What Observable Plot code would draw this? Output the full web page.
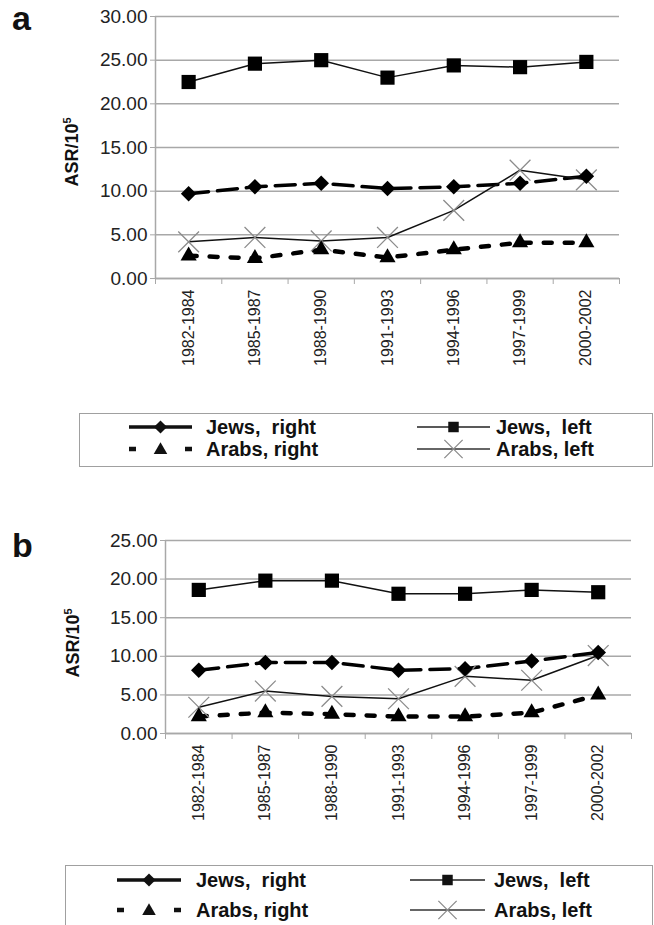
<!DOCTYPE html>
<html><head><meta charset="utf-8">
<script src="https://cdn.jsdelivr.net/npm/d3@7"></script>
<script src="https://cdn.jsdelivr.net/npm/@observablehq/plot@0.6"></script>
<style>
body{margin:0;background:#fff;font-family:"Liberation Sans",Arial,sans-serif;}
#root{position:relative;width:654px;height:925px;overflow:hidden;background:#fff;}
.abs{position:absolute;}
.letter{font-weight:bold;font-size:34px;line-height:34px;color:#111;}
.ylab{font-weight:bold;font-size:18px;color:#111;white-space:nowrap;transform:translate(-50%,-50%) rotate(-90deg);}
.ylab sup{font-size:11px;}
.legend{border:1.5px solid #a0a0a0;box-sizing:border-box;background:#fff;}
.ltext{position:absolute;font-weight:bold;font-size:20px;color:#111;white-space:pre;transform:translateY(-50%);line-height:22px;}
</style></head><body><div id="root"></div>
<script>
const periods = ["1982-1984","1985-1987","1988-1990","1991-1993","1994-1996","1997-1999","2000-2002"];
const seriesNames = ["Jews, right","Jews, left","Arabs, right","Arabs, left"];
const yTicksA = [0,5,10,15,20,25,30];
const yTicksB = [0,5,10,15,20,25];

// panel a
const aJewsRight  = [9.7,10.5,10.9,10.3,10.5,10.9,11.7];
const aJewsLeft   = [22.5,24.6,25.0,23.0,24.4,24.2,24.8];
const aArabsRight = [2.6,2.3,3.3,2.4,3.3,4.1,4.1];
const aArabsLeft  = [4.2,4.7,4.3,4.7,7.8,12.4,11.3];
// panel b
const bJewsRight  = [8.2,9.2,9.2,8.2,8.4,9.4,10.5];
const bJewsLeft   = [18.6,19.8,19.8,18.1,18.1,18.6,18.3];
const bArabsRight = [2.2,2.7,2.5,2.2,2.2,2.7,5.0];
const bArabsLeft  = [3.4,5.5,4.8,4.5,7.4,6.9,10.1];

const root = document.getElementById("root");
const GRID = "#a8a8a8";

function chart(o){
  const pts = v => v.map((y,i)=>({x:i+0.5, y, period: periods[i]}));
  return Plot.plot({
    width: 654, height: o.height,
    marginLeft: o.ml, marginRight: o.mr, marginTop: o.mt, marginBottom: o.mb,
    style: {fontFamily: "'Liberation Sans', Arial, sans-serif", background: "white", overflow: "visible"},
    x: {domain: [0, periods.length]},
    y: {domain: [0, o.yMax]},
    marks: [
      Plot.gridY(o.yTicks, {stroke: GRID, strokeOpacity: 1, strokeWidth: 1.5}),
      Plot.ruleX([0], {stroke: GRID, strokeWidth: 1.5}),
      Plot.ruleY([0], {stroke: GRID, strokeWidth: 1.5}),
      Plot.axisY({ticks: o.yTicks, tickFormat: d3.format(".2f"), tickSize: 5, tickPadding: 3,
                  stroke: GRID, fill: "#222", fontSize: 19, label: null}),
      Plot.axisX({ticks: d3.range(periods.length + 1), tickFormat: () => "", tickSize: 6,
                  stroke: GRID, label: null}),
      Plot.axisX({ticks: periods.map((p,i)=>i+0.5), tickFormat: v => periods[Math.round(v-0.5)],
                  tickSize: 0, tickPadding: 11, tickRotate: -90, fill: "#222", fontSize: 16, label: null}),
      Plot.line(pts(o.ar), {x: "x", y: "y", stroke: "black", strokeWidth: 4.5, strokeDasharray: "8,13"}),
      Plot.line(pts(o.jr), {x: "x", y: "y", stroke: "black", strokeWidth: 3.5, strokeDasharray: "20,9"}),
      Plot.line(pts(o.al), {x: "x", y: "y", stroke: "#111", strokeWidth: 1.5}),
      Plot.line(pts(o.jl), {x: "x", y: "y", stroke: "#111", strokeWidth: 1.5}),
      Plot.dot(pts(o.al), {x: "x", y: "y", symbol: "times", r: 9.5, stroke: "#8c8c8c", strokeWidth: 1.3}),
      Plot.dot(pts(o.ar), {x: "x", y: "y", symbol: "triangle", r: 6, fill: "black", stroke: "none"}),
      Plot.dot(pts(o.jr), {x: "x", y: "y", symbol: "diamond2", r: 7, fill: "black", stroke: "none"}),
      Plot.dot(pts(o.jl), {x: "x", y: "y", symbol: "square", r: 8, fill: "black", stroke: "none"})
    ]
  });
}

function place(el, left, top){
  el.style.position = "absolute"; el.style.left = left + "px"; el.style.top = top + "px";
  root.appendChild(el); return el;
}
function div(cls, html, left, top){
  const d = document.createElement("div"); d.className = cls; d.innerHTML = html;
  return place(d, left, top);
}

// legend swatches
function swatch(kind, w){
  const h = 24, cy = h/2, cx = w/2;
  const ns = "http://www.w3.org/2000/svg";
  const svg = document.createElementNS(ns, "svg");
  svg.setAttribute("width", w); svg.setAttribute("height", h);
  let line = "", marker = "";
  if (kind === 0){ // Jews, right
    line = `<line x1="0" x2="${w}" y1="${cy}" y2="${cy}" stroke="#111" stroke-width="3.5" stroke-dasharray="${(w/2-4).toFixed(1)},8,${w}"/>`;
    marker = `<path transform="translate(${cx},${cy})" d="${d3.symbol(d3.symbolDiamond2, 110)()}" fill="#111"/>`;
  } else if (kind === 1){ // Jews, left
    line = `<line x1="0" x2="${w}" y1="${cy}" y2="${cy}" stroke="#222" stroke-width="1.5"/>`;
    marker = `<path transform="translate(${cx},${cy})" d="${d3.symbol(d3.symbolSquare, 110)()}" fill="#111"/>`;
  } else if (kind === 2){ // Arabs, right
    line = `<line x1="0" x2="${w}" y1="${cy}" y2="${cy}" stroke="#111" stroke-width="4.5" stroke-dasharray="7,${w-14},7"/>`;
    marker = `<path transform="translate(${cx},${cy+1})" d="${d3.symbol(d3.symbolTriangle, 80)()}" fill="#111"/>`;
  } else { // Arabs, left
    line = `<line x1="0" x2="${w}" y1="${cy}" y2="${cy}" stroke="#333" stroke-width="1.5"/>`;
    marker = `<path transform="translate(${cx},${cy})" d="${d3.symbol(d3.symbolTimes, 220)()}" fill="none" stroke="#8c8c8c" stroke-width="1.3"/>`;
  }
  svg.innerHTML = line + marker;
  return svg;
}

function legend(L){
  const box = document.createElement("div"); box.className = "legend";
  box.style.width = L.w + "px"; box.style.height = L.h + "px";
  place(box, L.x, L.y);
  const layout = [
    {k:0, sx:L.ls, sw:L.lw, tx:L.lt, cy:L.r1},
    {k:1, sx:L.rs, sw:L.rw, tx:L.rt, cy:L.r1},
    {k:2, sx:L.ls, sw:L.lw, tx:L.lt, cy:L.r2},
    {k:3, sx:L.rs, sw:L.rw, tx:L.rt, cy:L.r2}
  ];
  for (const it of layout){
    place(swatch(it.k, it.sw), it.sx, it.cy - 12);
    div("ltext", seriesNames[it.k].replace(", ", it.k < 2 ? ",  " : ", "), it.tx, it.cy);
  }
}

// Panel a
const ca = chart({height: 400, ml: 155, mr: 35, mt: 16, mb: 122, yMax: 30, yTicks: yTicksA,
  jr: aJewsRight, jl: aJewsLeft, ar: aArabsRight, al: aArabsLeft});
place(ca, 0, 0);
div("letter", "a", 12, 1);
div("ylab abs", "ASR/10<sup>5</sup>", 72, 152);
legend({x: 79, y: 413, w: 574, h: 54, r1: 427, r2: 449, ls: 129, lw: 63, lt: 206, rs: 417, rw: 73, rt: 496});

// Panel b
const cb = chart({height: 330, ml: 165, mr: 23, mt: 40, mb: 97, yMax: 25, yTicks: yTicksB,
  jr: bJewsRight, jl: bJewsLeft, ar: bArabsRight, al: bArabsLeft});
place(cb, 0, 500);
div("letter", "b", 12, 528);
div("ylab abs", "ASR/10<sup>5</sup>", 73, 643);
legend({x: 65, y: 865, w: 588, h: 62, r1: 880, r2: 910, ls: 117, lw: 64, lt: 196, rs: 410, rw: 75, rt: 494});
</script></body></html>
